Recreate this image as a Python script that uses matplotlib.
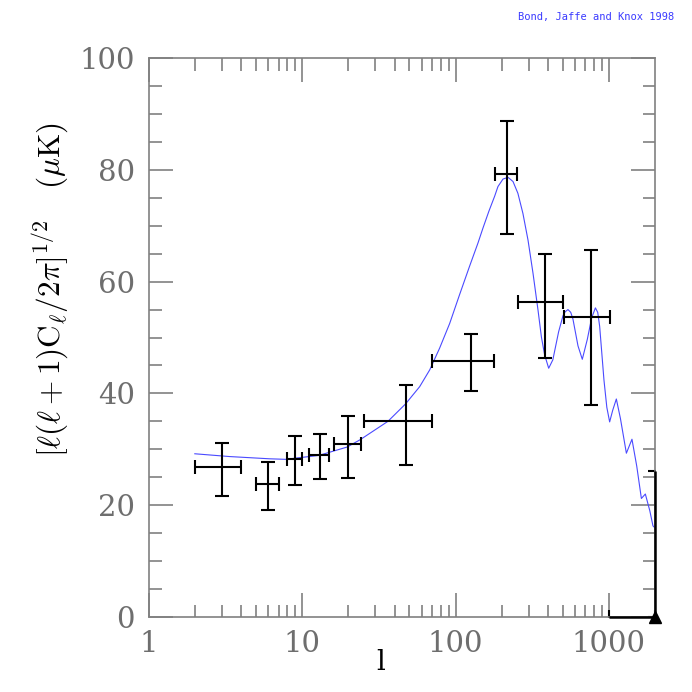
"""
CMB angular power spectrum band powers with a model curve (Bond, Jaffe and Knox 1998 style).
"""

import matplotlib
matplotlib.use('Agg')
import matplotlib.pyplot as plt
from matplotlib.ticker import FixedLocator, NullFormatter

plt.rcParams['mathtext.fontset'] = 'cm'

# band power measurements: multipole, band edges, value, error bar ends
ell = [3.0, 6.0, 9.0, 13.0, 20.0, 47.6, 126.0, 218.0, 382.0, 762.0]
ell_lo = [2.0, 5.0, 8.0, 11.0, 16.0, 25.2, 70.2, 182.0, 255.0, 510.0]
ell_hi = [4.0, 7.0, 10.0, 15.0, 24.0, 69.7, 177.0, 250.0, 505.0, 1016.0]
dT = [26.8, 23.8, 28.3, 29.0, 31.0, 35.0, 45.8, 79.2, 56.4, 53.6]
dT_lo = [21.6, 19.1, 23.6, 24.7, 24.9, 27.2, 40.4, 68.5, 46.3, 37.9]
dT_hi = [31.2, 27.8, 32.3, 32.8, 36.0, 41.5, 50.6, 88.8, 65.0, 65.7]

# upper limit at the high-l end
lim_ell = 2000.0
lim_ell_lo = 1000.0
lim_val = 0.0
lim_top = 26.2

# model curve
model_ell = [1.99, 3.36, 6.13, 7.91, 8.9, 12.8, 19.6, 23.8, 36.2, 47.1, 58.3,
             67.8, 78.7, 91.5, 106, 123.6, 140, 151, 165, 180, 189, 204, 220,
             237, 255, 275, 297, 320, 345, 363, 381, 405, 431, 470, 502, 519,
             541, 564, 583, 629, 671, 724, 772, 817, 846, 871, 929, 970, 1012,
             1060, 1119, 1190, 1301, 1415, 1520, 1630, 1730, 1850, 1940, 1990]
model_dT = [29.2, 28.7, 28.3, 28.2, 28.4, 28.9, 30.4, 31.7, 35.0, 38.1, 41.2,
            44.2, 48.1, 52.5, 57.6, 62.8, 66.9, 69.6, 72.6, 75.3, 77.0, 78.35, 78.65,
            77.9, 75.8, 72.2, 67.4, 61.5, 54.9, 50.1, 46.9, 44.5, 46.0, 51.0, 53.9, 54.6,
            55.0, 54.5, 53.3, 48.5, 46.1, 49.7, 53.5, 55.3, 54.5, 52.0, 42.4, 37.5, 34.9,
            37.0, 39.0, 35.5, 29.3, 31.8, 27.0, 21.2, 22.0, 19.0, 16.3, 16.0]

GREY = '#808080'

fig = plt.figure(figsize=(6.92, 6.92), dpi=100)
ax = fig.add_axes([149 / 692, 75 / 692, 506 / 692, 559 / 692])

ax.plot(model_ell, model_dT, color='#4a4aff', lw=0.8)

xerr = [[e - lo for e, lo in zip(ell, ell_lo)], [hi - e for e, hi in zip(ell, ell_hi)]]
yerr = [[v - lo for v, lo in zip(dT, dT_lo)], [hi - v for v, hi in zip(dT, dT_hi)]]
ax.errorbar(ell, dT, xerr=xerr, yerr=yerr, fmt='none', ecolor='black',
            elinewidth=1.5, capsize=5, capthick=1.5)

lim = ax.errorbar([lim_ell], [lim_val], xerr=[[lim_ell - lim_ell_lo], [0]],
                  yerr=[[0], [lim_top - lim_val]], fmt='none', ecolor='black',
                  elinewidth=1.8, capsize=5, capthick=1.5)
for coll in lim.lines[2]:
    coll.set_clip_on(False)
    coll.set_zorder(4)
ax.plot([lim_ell], [lim_val], marker='^', color='black', markersize=8,
        clip_on=False, zorder=5)

ax.set_xscale('log')
ax.set_xlim(1, 2000)
ax.set_ylim(0, 100)

ax.xaxis.set_major_locator(FixedLocator([1, 10, 100, 1000]))
ax.xaxis.set_minor_locator(FixedLocator([m * d for d in (1, 10, 100) for m in range(2, 10)]))
ax.xaxis.set_minor_formatter(NullFormatter())
ax.set_xticklabels(['1', '10', '100', '1000'])
ax.yaxis.set_major_locator(FixedLocator([0, 20, 40, 60, 80, 100]))
ax.yaxis.set_minor_locator(FixedLocator(range(5, 100, 5)))

ax.tick_params(which='both', direction='in', top=True, right=True, color=GREY, width=1.2)
ax.tick_params(which='major', length=17, labelsize=21, labelcolor='#6e6e6e')
ax.tick_params(which='minor', length=9)
ax.tick_params(axis='x', pad=9)
ax.tick_params(axis='y', pad=10)
for lab in ax.get_xticklabels() + ax.get_yticklabels():
    lab.set_family('DejaVu Serif')
for sp in ax.spines.values():
    sp.set_color(GREY)
    sp.set_linewidth(1.2)

ax.set_xlabel('l', fontsize=20, family='DejaVu Serif')
ax.xaxis.set_label_coords(0.458, -0.058)
ax.set_ylabel(r'$[\ell(\ell+1)\mathrm{C}_\ell/2\pi]^{1/2}$   $(\mu\mathrm{K})$',
              fontsize=22.5)
ax.yaxis.set_label_coords(-0.155, 0.585)

fig.text(0.975, 0.975, 'Bond, Jaffe and Knox 1998', color='#3a3aff',
         fontsize=7.5, family='DejaVu Sans Mono', ha='right', va='center')

fig.savefig('out.png', dpi=100)
